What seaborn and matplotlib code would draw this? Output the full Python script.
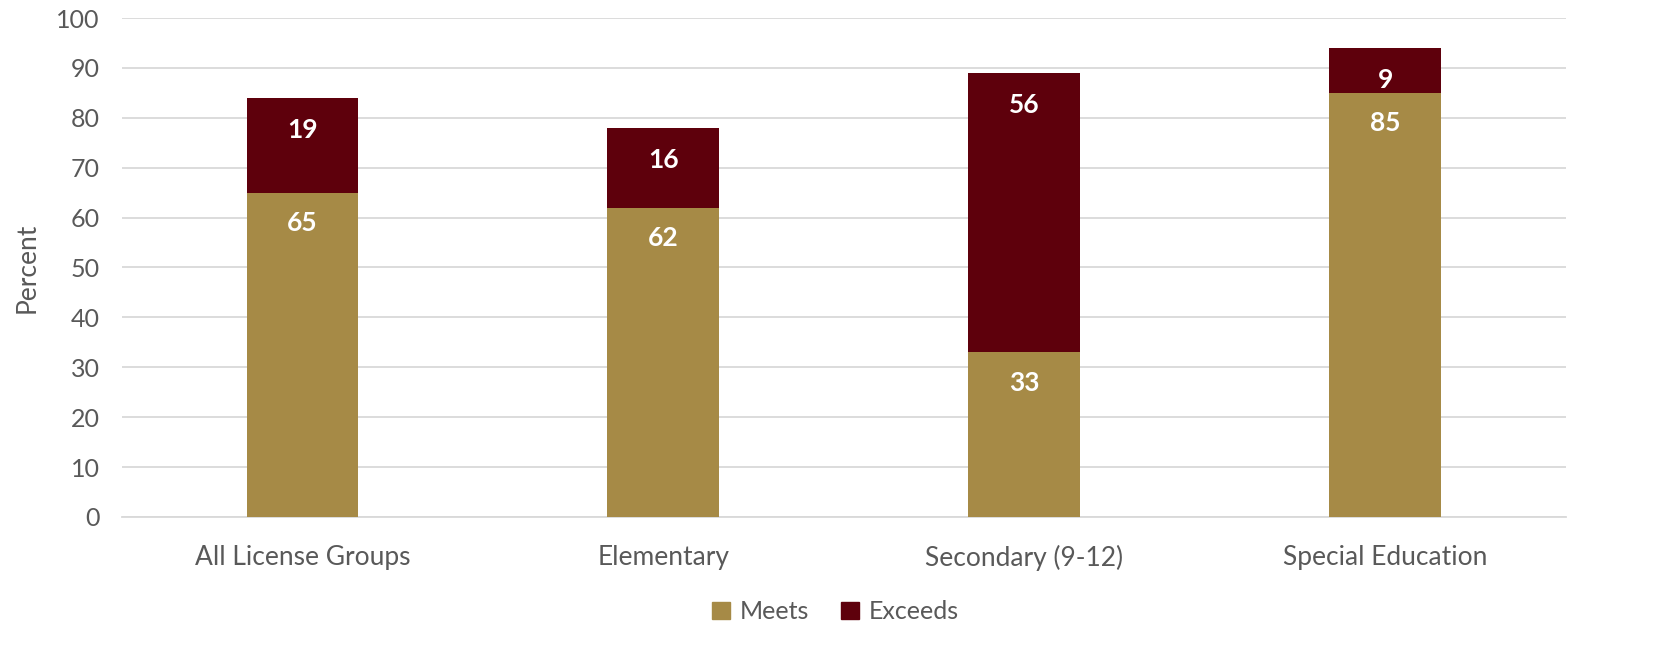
import matplotlib
matplotlib.use("Agg")
import matplotlib.pyplot as plt
import seaborn as sns
import pandas as pd
from matplotlib.patches import Patch

# chart values
categories = ["All License Groups", "Elementary", "Secondary (9-12)", "Special Education"]
meets = [65, 62, 33, 85]
exceeds = [19, 16, 56, 9]

MEETS_COLOR = "#A68A46"
EXCEEDS_COLOR = "#5E000C"
TEXT_COLOR = "#595959"

df = pd.DataFrame({"group": categories, "meets": meets, "exceeds": exceeds})
df["total"] = df["meets"] + df["exceeds"]

sns.set_style("white")
plt.rcParams["font.family"] = ["Lato", "DejaVu Sans"]

fig = plt.figure(figsize=(16.71, 6.67), dpi=100)
ax = fig.add_axes([0.073, 0.225, 0.864, 0.748])

# stacked bars: draw totals first, then the lower segment on top
sns.barplot(data=df, x="group", y="total", color=EXCEEDS_COLOR, width=0.31,
            saturation=1, linewidth=0, ax=ax, zorder=3)
sns.barplot(data=df, x="group", y="meets", color=MEETS_COLOR, width=0.31,
            saturation=1, linewidth=0, ax=ax, zorder=3)

# labels near the top of each segment
for i, row in df.iterrows():
    ax.annotate(str(row["meets"]), (i, row["meets"]), xytext=(0, -22),
                textcoords="offset points", ha="center", va="center",
                color="white", fontsize=19, fontweight="bold", zorder=4)
    ax.annotate(str(row["exceeds"]), (i, row["total"]), xytext=(0, -23),
                textcoords="offset points", ha="center", va="center",
                color="white", fontsize=19, fontweight="bold", zorder=4)

ax.set_ylim(0, 100)
ax.set_yticks(range(0, 101, 10))
ax.set_xlim(-0.5, 3.5)
ax.yaxis.grid(True, color="#D9D9D9", linewidth=1.3, zorder=0)
ax.set_axisbelow(True)
for side in ["top", "right", "left"]:
    ax.spines[side].set_visible(False)
ax.spines["bottom"].set_color("#D9D9D9")
ax.spines["bottom"].set_linewidth(1.3)
ax.tick_params(axis="x", length=0, labelsize=19, colors=TEXT_COLOR, pad=20)
ax.tick_params(axis="y", length=0, labelsize=18, colors=TEXT_COLOR, pad=16)
ax.set_xlabel("")
ax.set_ylabel("Percent", fontsize=19, color=TEXT_COLOR, labelpad=12)

handles = [Patch(color=MEETS_COLOR, label="Meets"), Patch(color=EXCEEDS_COLOR, label="Exceeds")]
fig.legend(handles=handles, loc="center", bbox_to_anchor=(0.5, 0.083), ncol=2,
           frameon=False, fontsize=18, labelcolor=TEXT_COLOR, handlelength=0.7,
           handleheight=0.7, handletextpad=0.4, columnspacing=1.3)

fig.savefig("out.png", dpi=100)
